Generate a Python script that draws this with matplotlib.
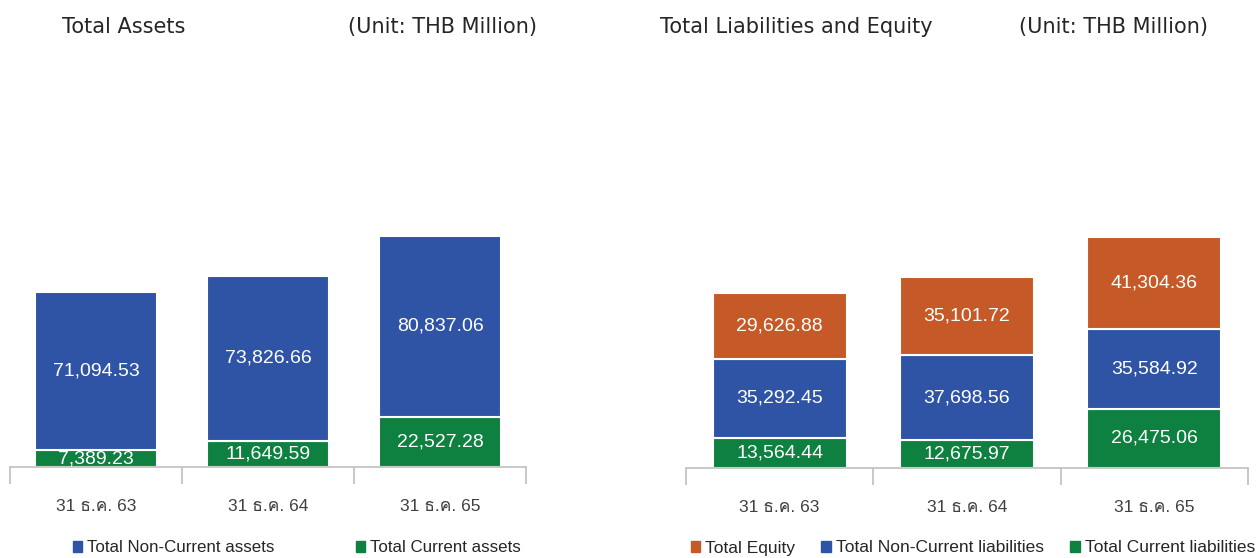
import matplotlib.pyplot as plt
from matplotlib import font_manager, ft2font
from matplotlib.patches import Patch

# find an installed family that has Thai glyphs (ธ, ค)
thai_font = None
for f in font_manager.fontManager.ttflist:
    try:
        cmap = ft2font.FT2Font(f.fname).get_charmap()
    except Exception:
        continue
    if 0x0E18 in cmap and 0x0E04 in cmap:
        thai_font = f.name
        break

fams = ['Liberation Sans', 'DejaVu Sans']
if thai_font:
    fams.insert(1, thai_font)
plt.rcParams['font.family'] = fams

# data
dates = ['31 ธ.ค. 63', '31 ธ.ค. 64', '31 ธ.ค. 65']
current_assets = [7389.23, 11649.59, 22527.28]
noncurrent_assets = [71094.53, 73826.66, 80837.06]
current_liab = [13564.44, 12675.97, 26475.06]
noncurrent_liab = [35292.45, 37698.56, 35584.92]
equity = [29626.88, 35101.72, 41304.36]

blue = '#2F54A5'
green = '#0E803F'
orange = '#C55A28'

fig = plt.figure(figsize=(12.58, 5.58), dpi=100)
ax1 = fig.add_axes([0.0080, 0.1631, 0.4102, 0.4406])
ax2 = fig.add_axes([0.5453, 0.1613, 0.4467, 0.4406])


def stack(ax, series, colors, width):
    x = range(len(dates))
    bottom = [0] * len(dates)
    for vals, c in zip(series, colors):
        bars = ax.bar(x, vals, width, bottom=bottom, color=c,
                      edgecolor='white', linewidth=1.5)
        for b, v in zip(bars, vals):
            ax.text(b.get_x() + b.get_width() / 2, b.get_y() + b.get_height() / 2,
                    f'{v:,.2f}', ha='center', va='center', color='white',
                    fontsize=14, clip_on=True)
        bottom = [a + v for a, v in zip(bottom, vals)]


def style(ax):
    ax.set_xlim(-0.5, 2.5)
    ax.set_ylim(0, 110000)
    for s in ['top', 'right', 'left']:
        ax.spines[s].set_visible(False)
    ax.spines['bottom'].set_color('#BFBFBF')
    ax.spines['bottom'].set_linewidth(1.2)
    ax.set_yticks([])
    ax.set_xticks(range(len(dates)))
    ax.set_xticklabels(dates, fontsize=12.5, color='#404040')
    ax.tick_params(axis='x', which='major', length=0, pad=23)
    ax.set_xticks([-0.5, 0.5, 1.5, 2.5], minor=True)
    ax.tick_params(axis='x', which='minor', length=12, color='#BFBFBF', width=1.2)


stack(ax1, [current_assets, noncurrent_assets], [green, blue], 0.71)
stack(ax2, [current_liab, noncurrent_liab, equity], [green, blue, orange], 0.715)
style(ax1)
style(ax2)

# titles
tkw = dict(fontsize=15, color='#262626', va='center', family=['DejaVu Sans'])
ty = 1 - 27 / 558
fig.text(62 / 1258, ty, 'Total Assets', **tkw)
fig.text(537 / 1258, ty, '(Unit: THB Million)', ha='right', **tkw)
fig.text(660 / 1258, ty, 'Total Liabilities and Equity', **tkw)
fig.text(1208 / 1258, ty, '(Unit: THB Million)', ha='right', **tkw)

# legends
h1 = [Patch(color=blue, label='Total Non-Current assets'),
      Patch(color=green, label='Total Current assets')]
fig.legend(handles=h1, loc='center', bbox_to_anchor=(297 / 1258, 1 - 548 / 558), ncol=2,
           frameon=False, fontsize=12.2, handlelength=0.55, handleheight=0.55,
           handletextpad=0.3, columnspacing=4.8, labelcolor='#262626')
h2 = [Patch(color=orange, label='Total Equity'),
      Patch(color=blue, label='Total Non-Current liabilities'),
      Patch(color=green, label='Total Current liabilities')]
fig.legend(handles=h2, loc='center', bbox_to_anchor=(973 / 1258, 1 - 548 / 558), ncol=3,
           frameon=False, fontsize=12.5, handlelength=0.55, handleheight=0.55,
           handletextpad=0.3, columnspacing=1.5, labelcolor='#262626')

fig.savefig('out.png', dpi=100)
